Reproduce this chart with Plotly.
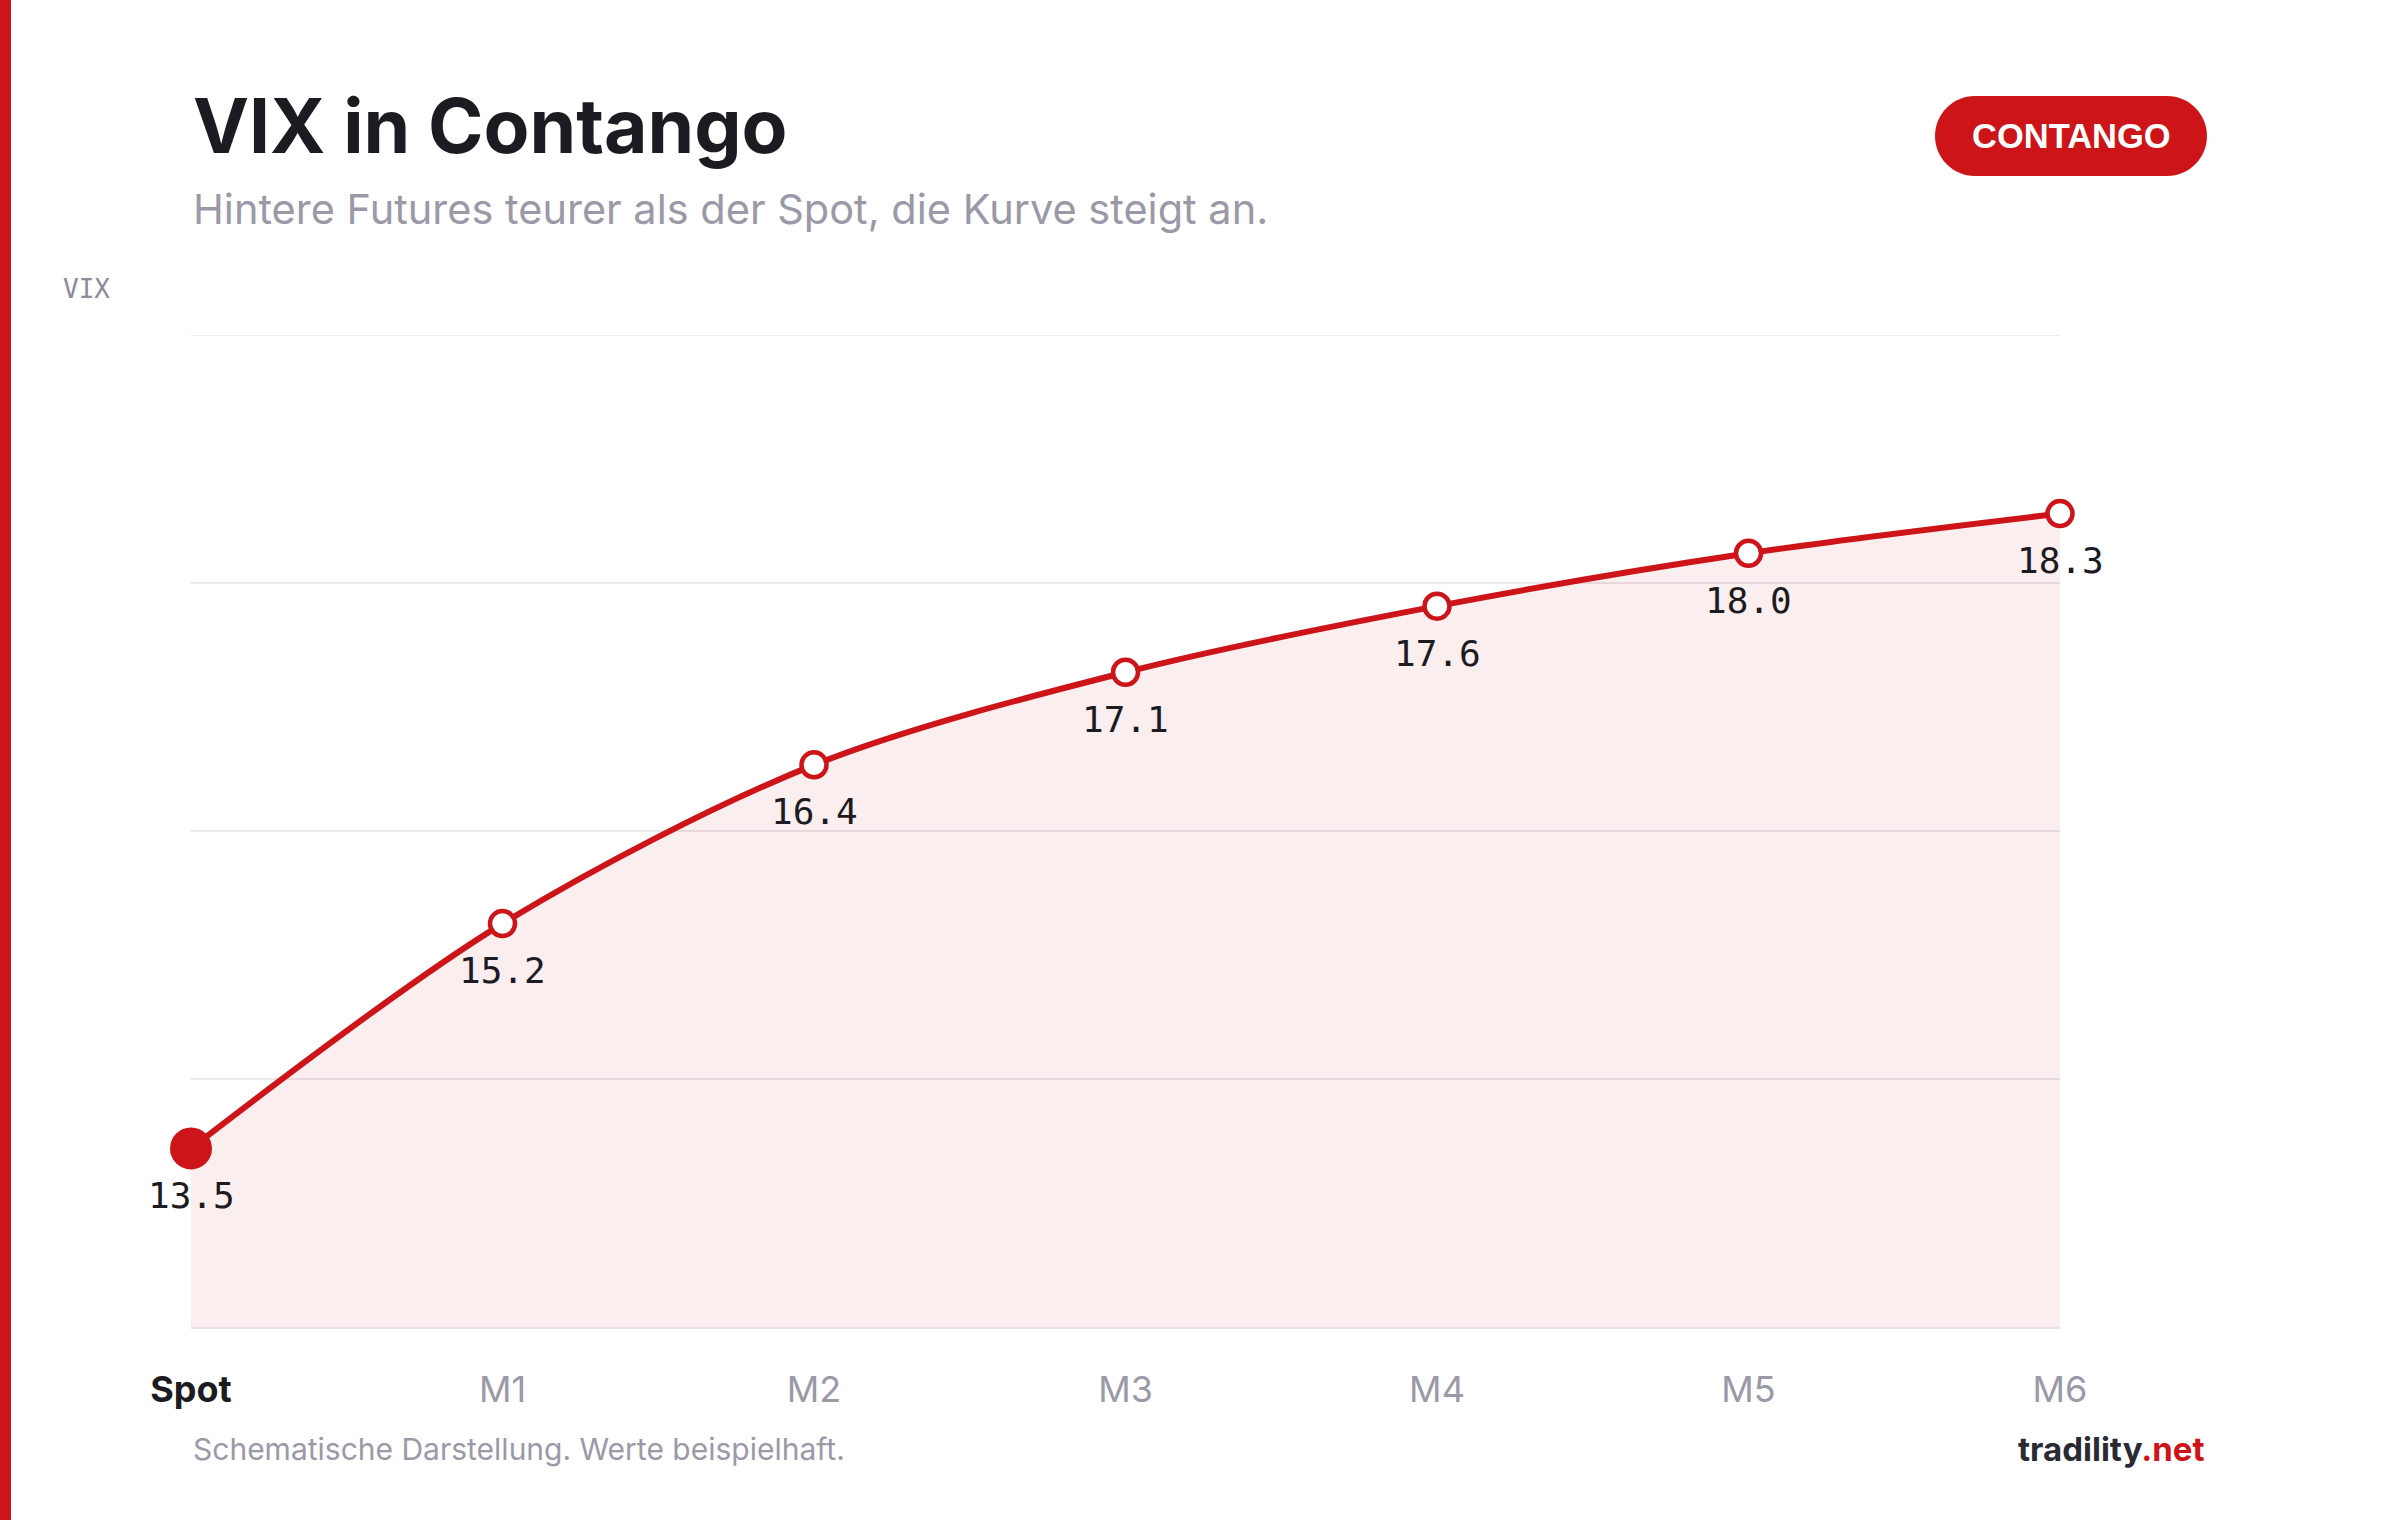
import plotly.graph_objects as go

# ---- data ----
categories = ["Spot", "M1", "M2", "M3", "M4", "M5", "M6"]
vix_values = [13.5, 15.2, 16.4, 17.1, 17.6, 18.0, 18.3]
y_range = [12.15, 19.65]

title_text = "VIX in Contango"
subtitle_text = "Hintere Futures teurer als der Spot, die Kurve steigt an."
badge_text = "CONTANGO"
axis_label = "VIX"
footer_text = "Schematische Darstellung. Werte beispielhaft."

# ---- layout geometry (pixels) ----
W, H = 2400, 1520
L, R, T, B = 191, 2060, 335, 1327
RED = "#CC1419"
DARK = "#1c1b22"
GRAY = "#9b99a8"
GRID = "#ece8ea"
SANS = "Inter, 'DejaVu Sans', sans-serif"
MONO = "'DejaVu Sans Mono', monospace"


def px(x):
    return (x - L) / (R - L)


def py(y):
    return (B - y) / (B - T)


fig = go.Figure()

fig.add_trace(go.Scatter(
    x=categories, y=vix_values, mode="lines",
    line=dict(color=RED, width=6, shape="spline", smoothing=0.9),
    fill="tozeroy", fillcolor="rgba(204,20,25,0.07)",
    hoverinfo="skip", showlegend=False,
))

fig.add_trace(go.Scatter(
    x=categories[1:], y=vix_values[1:], mode="markers",
    marker=dict(size=25, color="white", line=dict(color=RED, width=4.5)),
    cliponaxis=False, showlegend=False,
))
fig.add_trace(go.Scatter(
    x=categories[:1], y=vix_values[:1], mode="markers",
    marker=dict(size=42, color=RED, line=dict(width=0)),
    cliponaxis=False, showlegend=False,
))

annotations = []
for c, v in zip(categories, vix_values):
    annotations.append(dict(
        x=c, y=v, xref="x", yref="y", text=f"{v:.1f}", showarrow=False,
        yshift=-47, xanchor="center", yanchor="middle",
        font=dict(family=MONO, size=36, color=DARK),
    ))

annotations += [
    dict(x=px(191), y=py(125), xref="paper", yref="paper", text=f"<b>{title_text}</b>",
         showarrow=False, xanchor="left", yanchor="middle",
         font=dict(family=SANS, size=75, color=DARK)),
    dict(x=px(191), y=py(209), xref="paper", yref="paper", text=subtitle_text,
         showarrow=False, xanchor="left", yanchor="middle",
         font=dict(family=SANS, size=41.5, color=GRAY)),
    dict(x=px(61), y=py(289), xref="paper", yref="paper", text=axis_label,
         showarrow=False, xanchor="left", yanchor="middle",
         font=dict(family=MONO, size=26, color="#8d8b99")),
    dict(x=px(2071), y=py(136), xref="paper", yref="paper", text=f"<b>{badge_text}</b>",
         showarrow=False, xanchor="center", yanchor="middle",
         font=dict(family="'Liberation Sans', Arial, sans-serif", size=34.5, color="white")),
    dict(x=px(191), y=py(1449), xref="paper", yref="paper", text=footer_text,
         showarrow=False, xanchor="left", yanchor="middle",
         font=dict(family=SANS, size=30, color=GRAY)),
    dict(x=px(2207), y=py(1449), xref="paper", yref="paper",
         text=f"<b>tradility<span style='color:{RED}'>.net</span></b>",
         showarrow=False, xanchor="right", yanchor="middle",
         font=dict(family=SANS, size=33, color="#2a2a33")),
]

# pill badge path (pixels -> paper)
x0, x1, y0, y1 = 1935, 2207, 96, 176
r = (y1 - y0) / 2
k = 0.5523 * r


def P(x, y):
    return f"{px(x):.6f},{py(y):.6f}"


pill = (
    f"M{P(x0 + r, y0)} L{P(x1 - r, y0)} "
    f"C{P(x1 - r + k, y0)} {P(x1, y0 + r - k)} {P(x1, y0 + r)} "
    f"C{P(x1, y0 + r + k)} {P(x1 - r + k, y1)} {P(x1 - r, y1)} "
    f"L{P(x0 + r, y1)} "
    f"C{P(x0 + r - k, y1)} {P(x0, y1 - r + k)} {P(x0, y1 - r)} "
    f"C{P(x0, y1 - r - k)} {P(x0 + r - k, y0)} {P(x0 + r, y0)} Z"
)

shapes = [
    dict(type="rect", xref="paper", yref="paper", x0=px(0), x1=px(11), y0=py(H), y1=py(0),
         fillcolor=RED, line=dict(width=0), layer="above"),
    dict(type="path", xref="paper", yref="paper", path=pill,
         fillcolor=RED, line=dict(width=0)),
    # top gridline (at the upper edge of the value range)
    dict(type="line", xref="paper", yref="y", x0=0, x1=1, y0=y_range[1], y1=y_range[1],
         line=dict(color=GRID, width=1.5), layer="below"),
]

n_div = 4
grid_vals = [y_range[0] + i * (y_range[1] - y_range[0]) / n_div for i in range(n_div + 1)]

tick_text = [f"<b><span style='color:{DARK}'>{c}</span></b>" if i == 0 else c
             for i, c in enumerate(categories)]

fig.update_layout(
    width=W, height=H,
    margin=dict(l=L, r=W - R, t=T, b=H - B),
    paper_bgcolor="white", plot_bgcolor="white",
    annotations=annotations, shapes=shapes,
    xaxis=dict(
        type="category", range=[0, len(categories) - 1],
        tickvals=categories, ticktext=tick_text,
        tickfont=dict(family=SANS, size=36, color=GRAY),
        showgrid=False, zeroline=False, showline=True,
        linecolor="#e6e1e3", linewidth=2, ticks="", ticklabelstandoff=30,
    ),
    yaxis=dict(
        range=y_range, tickvals=grid_vals, showticklabels=False,
        showgrid=True, gridcolor=GRID, gridwidth=1.5,
        zeroline=False, showline=False,
    ),
    hovermode=False,
)

fig.write_html("out.html")
